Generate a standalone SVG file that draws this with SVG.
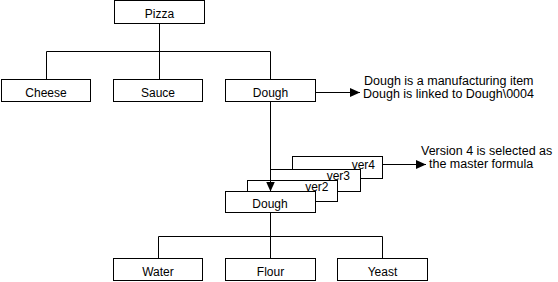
<svg xmlns="http://www.w3.org/2000/svg" width="558" height="282" viewBox="0 0 558 282">
<style>
.box{fill:#fff;stroke:#000;stroke-width:1}
.t{font-family:"Liberation Sans",Arial,sans-serif;font-size:12px;fill:#000;text-anchor:middle}
.v{font-family:"Liberation Sans",Arial,sans-serif;font-size:12px;fill:#000;text-anchor:end}
.n{font-family:"Liberation Sans",Arial,sans-serif;font-size:12.5px;fill:#000}
.c{fill:none;stroke:#000;stroke-width:1}
</style>
<defs>
<marker id="ah" markerUnits="userSpaceOnUse" markerWidth="10" markerHeight="9" refX="10" refY="4.5" orient="auto" viewBox="0 0 10 9">
<path d="M0,0 L10,4.5 L0,9 z" fill="#000"/>
</marker>
</defs>
<rect x="0" y="0" width="558" height="282" fill="#fff"/>
<g id="pizza"><rect class="box" x="114.5" y="0.5" width="90" height="23"/><text class="t" x="159.5" y="18">Pizza</text></g>
<g id="cheese"><rect class="box" x="1.5" y="79.5" width="89" height="22"/><text class="t" x="46" y="96.5">Cheese</text></g>
<g id="sauce"><rect class="box" x="113.5" y="79.5" width="89" height="22"/><text class="t" x="158" y="96.5">Sauce</text></g>
<g id="dough"><rect class="box" x="225.5" y="79.5" width="90" height="22"/><text class="t" x="270.5" y="96.5">Dough</text></g>
<g id="note1"><text class="n" x="364" y="85">Dough is a manufacturing item</text><text class="n" x="363" y="97.5">Dough is linked to Dough\0004</text></g>
<g id="ver4"><rect class="box" x="292.5" y="156.5" width="90" height="22"/><text class="v" x="375" y="169">ver4</text></g>
<g id="ver3"><rect class="box" x="270.5" y="169.5" width="90" height="22"/><text class="v" x="350" y="180">ver3</text></g>
<g id="ver2"><rect class="box" x="247.5" y="180.5" width="90" height="21"/><text class="v" x="328.5" y="191">ver2</text></g>
<g id="dough2"><rect class="box" x="225.5" y="191.5" width="90" height="21"/><text class="t" x="270" y="208">Dough</text></g>
<g id="note2"><text class="n" x="421" y="155">Version 4 is selected as</text><text class="n" x="429" y="168">the master formula</text></g>
<g id="water"><rect class="box" x="113.5" y="258.5" width="89" height="22"/><text class="t" x="158" y="276">Water</text></g>
<g id="flour"><rect class="box" x="225.5" y="258.5" width="90" height="22"/><text class="t" x="270.5" y="276">Flour</text></g>
<g id="yeast"><rect class="box" x="337.5" y="258.5" width="90" height="22"/><text class="t" x="382.5" y="276">Yeast</text></g>
<g id="connectors">
<path class="c" d="M159.5,23.5 V51.5 M46.5,79.5 V51.5 H270.5 V79.5 M159.5,51.5 V79.5"/>
<path class="c" d="M315.5,92.5 H360" marker-end="url(#ah)"/>
<path class="c" d="M270.5,101.5 V191.5" marker-end="url(#ah)"/>
<path class="c" d="M382.5,164.5 H426" marker-end="url(#ah)"/>
<path class="c" d="M270.5,212.5 V236.5 M158.5,258.5 V236.5 H382.5 V258.5 M270.5,236.5 V258.5"/>
</g>
</svg>
